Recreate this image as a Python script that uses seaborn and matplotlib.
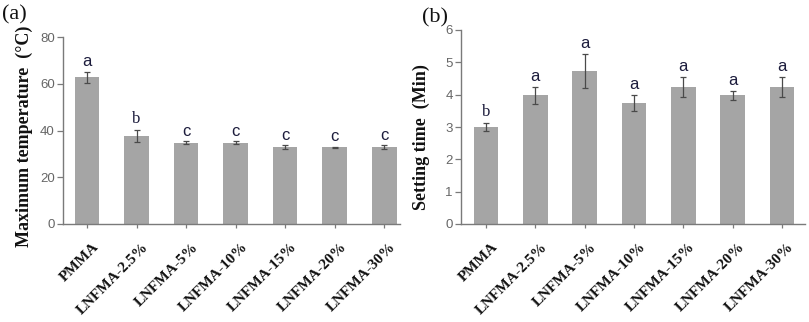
import matplotlib
matplotlib.use("Agg")
import matplotlib.pyplot as plt
import matplotlib.transforms as mtransforms
import seaborn as sns

categories = ["PMMA", "LNFMA-2.5%", "LNFMA-5%", "LNFMA-10%", "LNFMA-15%", "LNFMA-20%", "LNFMA-30%"]
max_temp = [62.8, 37.8, 34.7, 34.7, 32.8, 32.8, 32.8]
max_temp_err = [2.3, 2.6, 0.6, 0.6, 0.8, 0.3, 0.8]
max_temp_letters = ["a", "b", "c", "c", "c", "c", "c"]
set_time = [3.0, 3.98, 4.73, 3.74, 4.24, 3.98, 4.24]
set_time_err = [0.13, 0.26, 0.52, 0.25, 0.31, 0.14, 0.31]
set_time_letters = ["b", "a", "a", "a", "a", "a", "a"]

sns.set_theme(style="white")
plt.rcParams['font.family'] = ['Liberation Sans', 'DejaVu Sans']

W, H = 809, 322
fig = plt.figure(figsize=(W / 100, H / 100), dpi=100)

def px_axes(l, r, t, b):
    return fig.add_axes([l / W, (H - b) / H, (r - l) / W, (b - t) / H])

ax1 = px_axes(63, 400, 37, 224)
ax2 = px_axes(461, 805, 30, 224)

bar_color = "#a5a5a5"
spine_color = "#7a7a7a"

def draw(ax, vals, errs, letters, ylim, yticks, ylabel, xlim, letter_off, label_x, label_y):
    sns.barplot(x=categories, y=vals, color=bar_color, width=0.5, ax=ax,
                errorbar=None, saturation=1, edgecolor="none")
    ax.errorbar(range(len(vals)), vals, yerr=errs, fmt="none", ecolor="#4a4a4a",
                elinewidth=0.9, capsize=2.5, capthick=0.9)
    for i, (v, e, L) in enumerate(zip(vals, errs, letters)):
        fam = ['Liberation Serif'] if L == "b" else ['Liberation Sans']
        ax.text(i, v + e + letter_off, L, ha="center", va="bottom",
                fontsize=12, color="#1c1c3c", family=fam)
    ax.set_ylim(*ylim)
    ax.set_xlim(*xlim)
    ax.set_yticks(yticks)
    ax.set_yticklabels([str(t) for t in yticks], color="#666666", fontsize=9.5)
    for s in ["top", "right"]:
        ax.spines[s].set_visible(False)
    for s in ["left", "bottom"]:
        ax.spines[s].set_color(spine_color)
        ax.spines[s].set_linewidth(1.0)
    ax.tick_params(axis="y", direction="out", length=4, width=0.9, color=spine_color, pad=2, left=True)
    ax.tick_params(axis="x", direction="out", length=3, width=0.9, color=spine_color, bottom=True)
    ax.set_xticks(range(len(categories)))
    ax.set_xticklabels(categories, rotation=45, ha="right", va="center",
                       rotation_mode="anchor", fontsize=11, fontweight="bold",
                       family=['Liberation Serif'], color="#111111")
    offset = mtransforms.ScaledTranslation(10 / 100, -12 / 100, fig.dpi_scale_trans)
    for lab in ax.get_xticklabels():
        lab.set_transform(lab.get_transform() + offset)
    ax.set_xlabel("")
    ax.set_ylabel(ylabel, fontsize=13, fontweight="bold", family=['Liberation Serif', 'DejaVu Serif'],
                  color="#111111")
    ax.yaxis.set_label_coords(label_x, label_y)
    ax.grid(False)

draw(ax1, max_temp, max_temp_err, max_temp_letters, (0, 80), [0, 20, 40, 60, 80],
     "Maximum temperature  (\u00b0C)", (-0.485, 6.32), 1.2, -30 / 337, 0.47)
draw(ax2, set_time, set_time_err, set_time_letters, (0, 6), [0, 1, 2, 3, 4, 5, 6],
     "Setting time  (Min)", (-0.507, 6.47), 0.09, -31 / 344, 0.45)

fig.text(2 / W, 1 - 19 / H, "(a)", fontsize=16, family=['Liberation Serif'], color="#111111")
fig.text(422 / W, 1 - 22 / H, "(b)", fontsize=16, family=['Liberation Serif'], color="#111111")

fig.savefig("out.png", dpi=100)
